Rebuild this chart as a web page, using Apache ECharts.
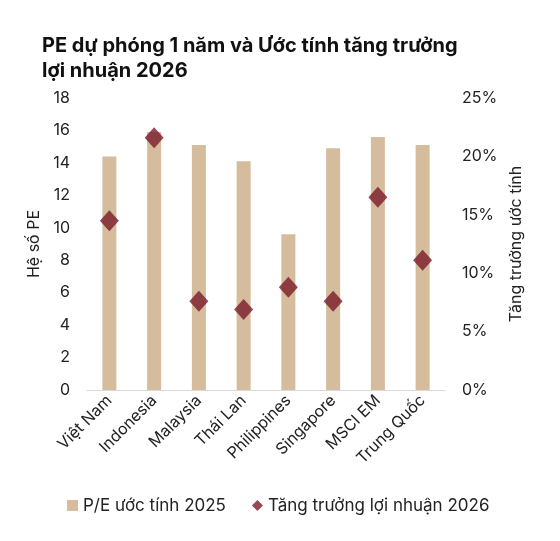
<!DOCTYPE html>
<html>
<head>
<meta charset="utf-8">
<script src="https://cdn.jsdelivr.net/npm/echarts@6/dist/echarts.min.js"></script>
<style>
    html, body { margin:0; padding:0; background:#fff; }
    #main { width:560px; height:541px; }
</style>
</head>
<body>
<div id="main"></div>
<script>
    var categories = ['Việt Nam', 'Indonesia', 'Malaysia', 'Thái Lan', 'Philippines', 'Singapore', 'MSCI EM', 'Trung Quốc'];
    var peValues = [14.4, 15.9, 15.1, 14.1, 9.6, 14.9, 15.6, 15.1];
    var growthValues = [14.5, 21.6, 7.6, 6.9, 8.8, 7.6, 16.5, 11.1];

    var font = 'Inter';
    var barColor = '#d4bc9d';
    var dotColor = '#791b2b';

    var chart = echarts.init(document.getElementById('main'));
    var option = {
        animation: false,
        textStyle: { fontFamily: font },
        title: {
            text: 'PE dự phóng 1 năm và Ước tính tăng trưởng\nlợi nhuận 2026',
            left: 37,
            top: 28,
            textStyle: { fontFamily: font, fontSize: 20, fontWeight: 'bold', color: '#111', lineHeight: 25 }
        },
        legend: {
            left: 62,
            top: 492,
            itemGap: 26,
            itemWidth: 11,
            itemHeight: 11,
            textStyle: { fontFamily: font, fontSize: 17, color: '#222' },
            data: [
                { name: 'P/E ước tính 2025', icon: 'rect' },
                { name: 'Tăng trưởng lợi nhuận 2026', icon: 'diamond', itemStyle: { color: dotColor } }
            ]
        },
        grid: { left: 87, right: 115, top: 98, bottom: 151 },
        xAxis: {
            type: 'category',
            data: categories,
            axisLine: { lineStyle: { color: '#d9d9d9', width: 1 } },
            axisTick: { show: false },
            axisLabel: { interval: 0, rotate: 45, fontFamily: font, fontSize: 16, color: '#222', margin: 8 }
        },
        yAxis: [
            {
                type: 'value',
                min: 0, max: 18, interval: 2,
                name: 'Hệ số PE',
                nameLocation: 'middle',
                nameRotate: 90,
                nameGap: 37,
                nameTextStyle: { fontFamily: font, fontSize: 16, color: '#222' },
                splitLine: { show: false },
                axisLine: { show: false },
                axisTick: { show: false },
                axisLabel: { fontFamily: font, fontSize: 16, color: '#222', margin: 17 }
            },
            {
                type: 'value',
                min: 0, max: 25, interval: 5,
                name: 'Tăng trưởng ước tính',
                nameLocation: 'middle',
                nameRotate: 90,
                nameGap: 57,
                nameTextStyle: { fontFamily: font, fontSize: 16, color: '#222' },
                splitLine: { show: false },
                axisLine: { show: false },
                axisTick: { show: false },
                axisLabel: { fontFamily: font, fontSize: 16, color: '#222', margin: 17, formatter: '{value}%' }
            }
        ],
        series: [
            {
                name: 'P/E ước tính 2025',
                type: 'bar',
                data: peValues,
                barWidth: 14,
                itemStyle: { color: barColor }
            },
            {
                name: 'Tăng trưởng lợi nhuận 2026',
                type: 'scatter',
                yAxisIndex: 1,
                data: growthValues,
                symbol: 'diamond',
                symbolSize: [19, 21],
                itemStyle: { color: dotColor }
            }
        ]
    };
    chart.setOption(option);
</script>
</body>
</html>
